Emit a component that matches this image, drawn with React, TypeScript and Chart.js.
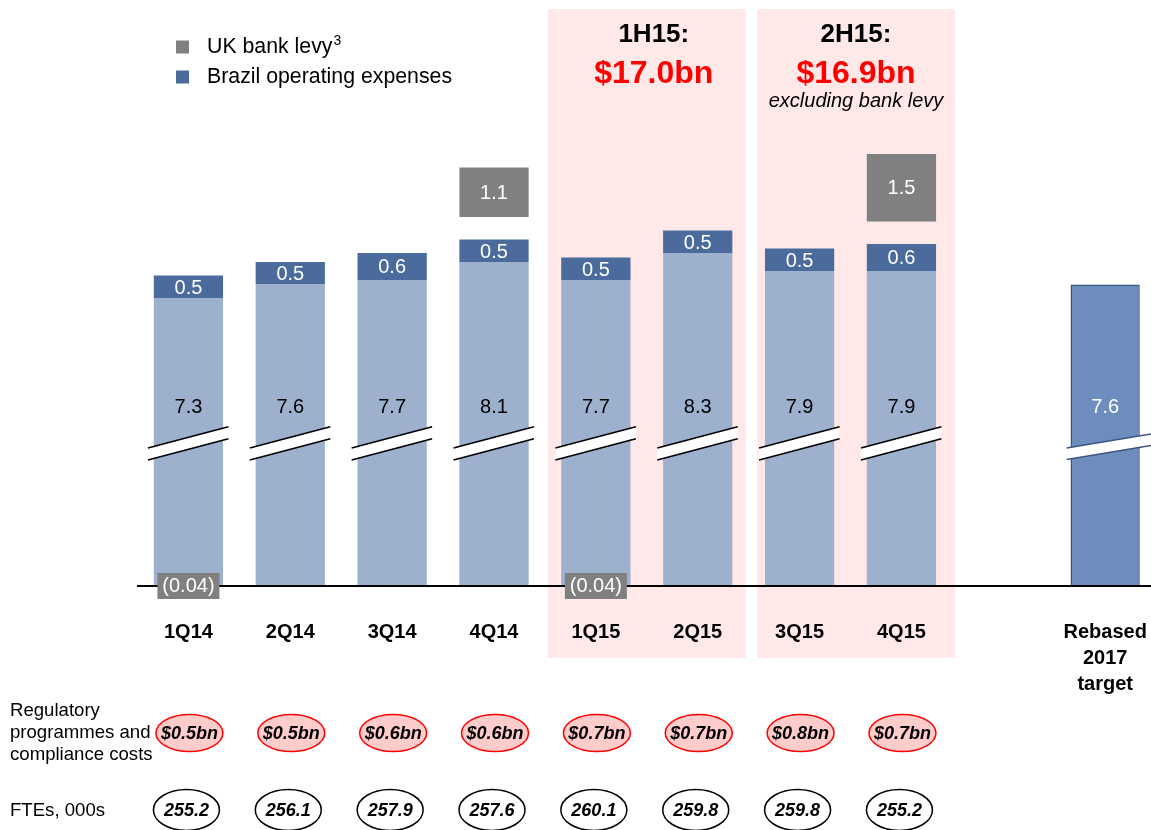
import React, { useEffect, useRef } from 'react';
import { Chart, registerables } from 'chart.js';

Chart.register(...registerables);

// ---------- data ----------
const quarterLabels: (string | string[])[] = ['1Q14', '2Q14', '3Q14', '4Q14', '1Q15', '2Q15', '3Q15', '4Q15', '', ['Rebased', '2017', 'target']];
const underlyingCosts: (number | null)[] = [7.3, 7.6, 7.7, 8.1, 7.7, 8.3, 7.9, 7.9, null, null];
const brazilOpex: (number | null)[] = [0.5, 0.5, 0.6, 0.5, 0.5, 0.5, 0.5, 0.6, null, null];
const ukBankLevy: (number | null)[] = [-0.04, null, null, 1.1, -0.04, null, null, 1.5, null, null];
const rebasedTarget: (number | null)[] = [null, null, null, null, null, null, null, null, null, 7.6];
const regulatoryCosts: number[] = [0.5, 0.5, 0.6, 0.6, 0.7, 0.7, 0.8, 0.7];
const ftes: number[] = [255.2, 256.1, 257.9, 257.6, 260.1, 259.8, 259.8, 255.2];
const halfYearTitles: string[] = ['1H15:', '2H15:'];
const halfYearTotals: string[] = ['$17.0bn', '$16.9bn'];
const halfYearNotes: string[] = ['', 'excluding bank levy'];
const halfYearQuarters: number[][] = [[4, 5], [6, 7]];
const legendLabels: string[] = ['UK bank levy', 'Brazil operating expenses'];
const legendSuperscripts: string[] = ['3', ''];
const rowLabelRegulatory: string[] = ['Regulatory', 'programmes and', 'compliance costs'];
const rowLabelFtes = 'FTEs, 000s';

// ---------- style ----------
const FONT = '"Liberation Sans", Arial, Helvetica, sans-serif';
const LIGHT = '#9DB0CE';
const DARK = '#4A6B9B';
const GREY = '#808080';
const REBASED = '#6C8DBD';
const REBASED_BORDER = '#3B5680';
const PINK = '#FFE8E8';
const RED = '#FF0000';
const Y_MIN = 0.9;
const Y_MAX = 13.92;
const BREAK_AT = 4.07;
const LEVY_GAP = 0.5;
const BAND_NUDGE = [0, 5.5];
const HEADER_NUDGE = [7, 0];

const fmt1 = (v: number) => v.toFixed(1);
const fmtNeg = (v: number) => (v < 0 ? `(${Math.abs(v).toFixed(2)})` : v.toFixed(1));

type Pt = { x: number; y: number | number[]; v: number };

const lightData: Pt[] = [];
const brazilData: Pt[] = [];
const levyData: Pt[] = [];
const rebasedData: Pt[] = [];
underlyingCosts.forEach((base, i) => {
  if (base == null) return;
  lightData.push({ x: i, y: base, v: base });
  const b = brazilOpex[i];
  const top = b == null ? base : base + b;
  if (b != null) brazilData.push({ x: i, y: [base, top], v: b });
  const l = ukBankLevy[i];
  if (l != null && l > 0) levyData.push({ x: i, y: [top + LEVY_GAP, top + LEVY_GAP + l], v: l });
});
rebasedTarget.forEach((v, i) => {
  if (v != null) rebasedData.push({ x: i, y: v, v });
});

function text(ctx: CanvasRenderingContext2D, s: string, x: number, y: number, font: string, color: string, align: CanvasTextAlign = 'center') {
  ctx.save();
  ctx.font = font;
  ctx.fillStyle = color;
  ctx.textAlign = align;
  ctx.textBaseline = 'middle';
  ctx.fillText(s, x, y);
  ctx.restore();
}

function drawBreak(ctx: CanvasRenderingContext2D, cx: number, cy: number, hl: number, hr: number, slope: number, gap: number, color: string) {
  const x1 = cx - hl;
  const x2 = cx + hr;
  const up = (x: number) => cy - gap / 2 + slope * (x - cx);
  const lo = (x: number) => cy + gap / 2 + slope * (x - cx);
  ctx.save();
  ctx.fillStyle = '#FFFFFF';
  ctx.beginPath();
  ctx.moveTo(x1, up(x1));
  ctx.lineTo(x2, up(x2));
  ctx.lineTo(x2, lo(x2));
  ctx.lineTo(x1, lo(x1));
  ctx.closePath();
  ctx.fill();
  ctx.strokeStyle = color;
  ctx.lineWidth = 1.6;
  ctx.beginPath();
  ctx.moveTo(x1, up(x1));
  ctx.lineTo(x2, up(x2));
  ctx.moveTo(x1, lo(x1));
  ctx.lineTo(x2, lo(x2));
  ctx.stroke();
  ctx.restore();
}

const overlayPlugin = {
  id: 'overlay',
  beforeDraw(chart: any) {
    const ctx: CanvasRenderingContext2D = chart.ctx;
    const xs = chart.scales.x;
    halfYearQuarters.forEach((q, k) => {
      const left = xs.getPixelForValue(q[0] - 0.5) + 3 + BAND_NUDGE[k];
      const right = xs.getPixelForValue(q[1] + 0.5) - 3 + BAND_NUDGE[k];
      ctx.save();
      ctx.fillStyle = PINK;
      ctx.fillRect(left, 9, right - left, 649);
      ctx.restore();
      const cx = (left + right) / 2 + HEADER_NUDGE[k];
      text(ctx, halfYearTitles[k], cx, 35, `bold 26px ${FONT}`, '#000');
      text(ctx, halfYearTotals[k], cx, 74, `bold 32px ${FONT}`, RED);
      if (halfYearNotes[k]) text(ctx, halfYearNotes[k], cx, 101, `italic 20px ${FONT}`, '#000');
    });
    const legendColors = [GREY, DARK];
    legendLabels.forEach((lab, k) => {
      const cy = 47 + k * 30;
      ctx.save();
      ctx.fillStyle = legendColors[k];
      ctx.fillRect(176, cy - 6.5, 13, 13);
      ctx.font = `21.3px ${FONT}`;
      ctx.fillStyle = '#000';
      ctx.textBaseline = 'middle';
      ctx.textAlign = 'left';
      ctx.fillText(lab, 207, cy);
      const w = ctx.measureText(lab).width;
      if (legendSuperscripts[k]) {
        ctx.font = `14px ${FONT}`;
        ctx.fillText(legendSuperscripts[k], 207 + w + 1, cy - 6);
      }
      ctx.restore();
    });
  },
  afterDatasetsDraw(chart: any) {
    const ctx: CanvasRenderingContext2D = chart.ctx;
    const ys = chart.scales.y;
    const breakY = ys.getPixelForValue(BREAK_AT);
    const valueFont = `20px ${FONT}`;
    chart.getDatasetMeta(0).data.forEach((el: any, j: number) => {
      const p = lightData[j];
      drawBreak(ctx, el.x, breakY, 40.5, 40, -0.2625, 12, '#000');
      text(ctx, fmt1(p.v), el.x, breakY - 35.5, valueFont, '#000');
    });
    chart.getDatasetMeta(1).data.forEach((el: any, j: number) => {
      text(ctx, fmt1(brazilData[j].v), el.x, (el.y + el.base) / 2 + 1.5, valueFont, '#FFFFFF');
    });
    chart.getDatasetMeta(2).data.forEach((el: any, j: number) => {
      text(ctx, fmt1(levyData[j].v), el.x, (el.y + el.base) / 2 + 1, valueFont, '#FFFFFF');
    });
    chart.getDatasetMeta(3).data.forEach((el: any, j: number) => {
      drawBreak(ctx, el.x, breakY + 4, 38.5, 50, -0.165, 11.5, REBASED_BORDER);
      text(ctx, fmt1(rebasedData[j].v), el.x, breakY - 35.5, valueFont, '#FFFFFF');
    });
  },
  afterDraw(chart: any) {
    const ctx: CanvasRenderingContext2D = chart.ctx;
    const xs = chart.scales.x;
    const axisY = chart.chartArea.bottom;
    ukBankLevy.forEach((v, i) => {
      if (v == null || v >= 0) return;
      const cx = xs.getPixelForValue(i);
      ctx.save();
      ctx.fillStyle = GREY;
      ctx.fillRect(cx - 31, axisY - 13, 62, 26);
      ctx.restore();
      text(ctx, fmtNeg(v), cx, axisY, `20px ${FONT}`, '#FFFFFF');
    });
    rowLabelRegulatory.forEach((s, k) => text(ctx, s, 10, 711 + k * 22, `18.6px ${FONT}`, '#000', 'left'));
    text(ctx, rowLabelFtes, 10, 811, `18.6px ${FONT}`, '#000', 'left');
    regulatoryCosts.forEach((v, i) => {
      const cx = xs.getPixelForValue(i) + 1;
      ctx.save();
      ctx.beginPath();
      ctx.ellipse(cx, 733, 33.5, 18.5, 0, 0, Math.PI * 2);
      ctx.fillStyle = '#FFCCCC';
      ctx.fill();
      ctx.strokeStyle = RED;
      ctx.lineWidth = 1.5;
      ctx.stroke();
      ctx.restore();
      text(ctx, `$${fmt1(v)}bn`, cx, 734, `italic bold 18px ${FONT}`, '#000');
    });
    ftes.forEach((v, i) => {
      const cx = xs.getPixelForValue(i) - 2;
      ctx.save();
      ctx.beginPath();
      ctx.ellipse(cx, 810, 33, 20.5, 0, 0, Math.PI * 2);
      ctx.fillStyle = '#FFFFFF';
      ctx.fill();
      ctx.strokeStyle = '#000';
      ctx.lineWidth = 1.5;
      ctx.stroke();
      ctx.restore();
      text(ctx, fmt1(v), cx, 811, `italic bold 18px ${FONT}`, '#000');
    });
  },
};

export default function App() {
  const ref = useRef<HTMLCanvasElement | null>(null);
  useEffect(() => {
    if (!ref.current) return;
    const common = { grouped: false, clip: 0, barPercentage: 0.68, categoryPercentage: 1, borderWidth: 0 };
    const chart = new Chart(ref.current, {
      type: 'bar',
      data: {
        datasets: [
          { label: 'Underlying costs', data: lightData as any, backgroundColor: LIGHT, ...common },
          { label: 'Brazil operating expenses', data: brazilData as any, backgroundColor: DARK, ...common },
          { label: 'UK bank levy', data: levyData as any, backgroundColor: GREY, ...common },
          { label: 'Rebased 2017 target', data: rebasedData as any, backgroundColor: REBASED, ...common, borderWidth: 1.5, borderColor: REBASED_BORDER },
        ],
      } as any,
      options: {
        responsive: false,
        animation: false,
        events: [],
        layout: { padding: { left: 137.5, right: 0, top: 0, bottom: 0 } },
        plugins: { legend: { display: false }, tooltip: { enabled: false } },
        scales: {
          x: {
            type: 'linear',
            min: -0.5,
            max: 9.45,
            bounds: 'data',
            offset: false,
            grid: { display: false, drawTicks: false, offset: false },
            border: { display: true, color: '#000', width: 2, z: 1 },
            afterBuildTicks: (scale: any) => {
              scale.ticks = quarterLabels.map((_, i) => ({ value: i }));
            },
            afterFit: (scale: any) => {
              scale.height = 244;
              scale.paddingLeft = 0;
              scale.paddingRight = 0;
            },
            ticks: {
              autoSkip: false,
              maxRotation: 0,
              minRotation: 0,
              padding: 33,
              color: '#000',
              font: { family: FONT, size: 20, weight: 'bold', lineHeight: 1.3 },
              callback: (value: any) => quarterLabels[Math.round(Number(value))] as any,
            },
          },
          y: { type: 'linear', display: false, min: Y_MIN, max: Y_MAX },
        },
      } as any,
      plugins: [overlayPlugin],
    });
    return () => chart.destroy();
  }, []);
  return (
    <div style={{ position: 'absolute', left: 0, top: 0, width: 1151, height: 830 }}>
      <canvas ref={ref} width={1151} height={830} style={{ display: 'block' }} />
    </div>
  );
}
